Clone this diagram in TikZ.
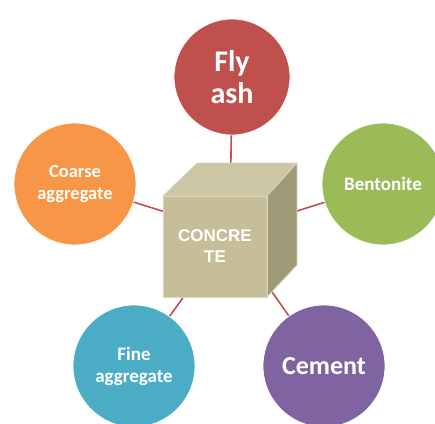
\documentclass[tikz,border=0pt]{standalone}
\usepackage{fontspec}
\newfontfamily\circfont{Carlito}
\newfontfamily\cubefont{Liberation Sans}
\definecolor{flyred}{HTML}{C0504D}
\definecolor{bentgreen}{HTML}{9BBB59}
\definecolor{cempurple}{HTML}{8064A2}
\definecolor{fineteal}{HTML}{4BACC6}
\definecolor{coarseorange}{HTML}{F79646}
\definecolor{cubefront}{HTML}{C5BE98}
\definecolor{cubetop}{HTML}{CCC6A4}
\definecolor{cubeside}{HTML}{9E9976}
\definecolor{cubeedge}{HTML}{DAD5BE}
\definecolor{linkred}{HTML}{C0504D}
\begin{document}
\begin{tikzpicture}[x=1pt,y=-1pt,
  ball/.style={circle,inner sep=0pt,minimum size=122pt,draw=white,line width=0.8pt,text=white,align=center},
  link/.style={draw=linkred,line width=1.6pt},
  face/.style={draw=cubeedge,line width=0.8pt,line join=round}]
\useasboundingbox (0,0) rectangle (435,423);
\coordinate (hub) at (230,232);
\node[ball,fill=flyred,minimum size=116pt,font={\circfont\bfseries\fontsize{30}{32}\selectfont}] (fly) at (232,77) {Fly\\ash};
\node[ball,fill=coarseorange,font={\circfont\bfseries\fontsize{18.5}{22}\selectfont}] (coarse) at (75,184) {Coarse\\aggregate};
\node[ball,fill=bentgreen,font={\circfont\bfseries\fontsize{19}{22}\selectfont}] (bent) at (383,184) {Bentonite};
\node[ball,fill=fineteal,font={\circfont\bfseries\fontsize{19}{22}\selectfont}] (fine) at (134,366) {Fine\\aggregate};
\node[ball,fill=cempurple,font={\circfont\bfseries\fontsize{26}{28}\selectfont}] (cem) at (324,366) {Cement};
\draw[link] (fly) -- (hub);
\draw[link] (coarse) -- (hub);
\draw[link] (bent) -- (hub);
\draw[link] (fine) -- (hub);
\draw[link] (cem) -- (hub);
% cube
\fill[cubefront,face] (163,196) rectangle (267,297);
\fill[cubetop,face] (163,196) -- (197,163) -- (297,163) -- (267,196) -- cycle;
\fill[cubeside,face] (267,196) -- (297,163) -- (297,265) -- (267,297) -- cycle;
\draw[cubeedge,line width=0.8pt] (163,196) rectangle (267,297);
\node[text=white,align=center,font={\cubefont\bfseries\fontsize{17}{21}\selectfont}] (label) at (215,246) {CONCRE\\TE};
\end{tikzpicture}
\end{document}
